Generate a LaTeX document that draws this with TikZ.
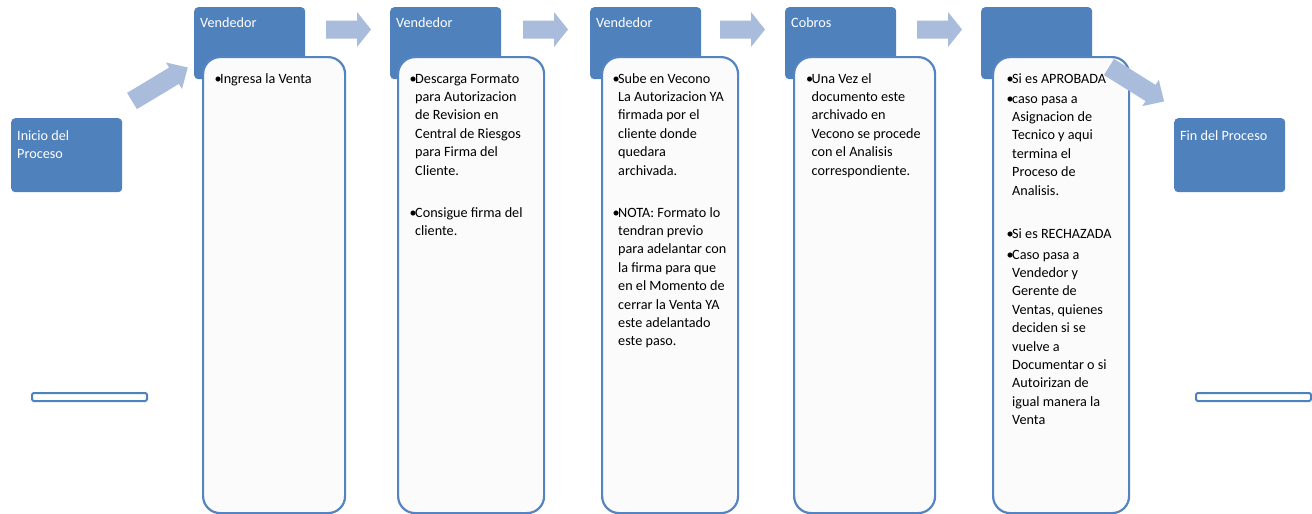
\documentclass[tikz,border=0pt]{standalone}
\usepackage{fontspec}
\setmainfont{Carlito}
\definecolor{hdr}{HTML}{4F81BD}
\definecolor{arr}{HTML}{A9BCDB}
\definecolor{cardb}{HTML}{5584C2}
\definecolor{cardf}{HTML}{FBFBFB}
\newcommand\bl{\makebox[5.5pt][l]{•}}
\newcommand\ind{\hspace*{5.5pt}}
\begin{document}
\begin{tikzpicture}[x=1pt,y=-1pt,
  hdrbox/.style={rectangle, rounded corners=4pt, fill=hdr, draw=none, anchor=north west, inner sep=0pt, minimum width=111pt},
  card/.style={rectangle, rounded corners=17pt, fill=cardf, draw=cardb, line width=2.2pt, anchor=north west, inner sep=0pt, minimum height=456pt},
  body/.style={anchor=north west, inner sep=0pt, align=left, text=black, font=\fontsize{14.2pt}{18.4pt}\selectfont},
  htext/.style={body, text=white},
  bar/.style={draw=hdr, fill=white, line width=2pt, rounded corners=1.5pt},
  harrow/.pic={\fill[arr] (0,-9) -- (31,-9) -- (31,-17.5) -- (45,0) -- (31,17.5) -- (31,9) -- (0,9) -- cycle;},
  darrow/.pic={\fill[arr] (0,-9.5) -- (49,-9.5) -- (49,-15.5) -- (65,0) -- (49,15.5) -- (49,9.5) -- (0,9.5) -- cycle;}
]
\useasboundingbox[fill=white] (0,0) rectangle (1312,514);

% start / end boxes
\node[hdrbox, minimum height=74pt] (ini) at (11,118) {};
\node[htext] (initxt) at (17,127.1) {\strut Inicio del\\Proceso};
\node[hdrbox, minimum height=74pt] (fin) at (1174,118) {};
\node[htext] (fintxt) at (1180,127.1) {\strut Fin del Proceso};

% header boxes
\node[hdrbox, minimum height=72pt] (h1) at (194,7) {};
\node[hdrbox, minimum height=72pt] (h2) at (390,7) {};
\node[hdrbox, minimum height=72pt] (h3) at (590,7) {};
\node[hdrbox, minimum height=72pt] (h4) at (785,7) {};
\node[hdrbox, minimum height=72pt] (h5) at (981,7) {};
\node[htext] (ht1) at (200,14.1) {\strut Vendedor};
\node[htext] (ht2) at (396,14.1) {\strut Vendedor};
\node[htext] (ht3) at (596,14.1) {\strut Vendedor};
\node[htext] (ht4) at (791,14.1) {\strut Cobros};

% cards
\node[card, minimum width=142pt] (c1) at (202,56) {};
\node[card, minimum width=146pt] (c2) at (397,56) {};
\node[card, minimum width=136pt] (c3) at (601,56) {};
\node[card, minimum width=141pt] (c4) at (793,56) {};
\node[card, minimum width=136pt] (c5) at (992,56) {};

\node[body] (b1) at (214.5,70.1) {\strut\bl Ingresa la Venta};
\node[body] (b2) at (409.5,70.1) {\strut\bl Descarga Formato\\
\ind para Autorizacion\\
\ind de Revision en\\
\ind Central de Riesgos\\
\ind para Firma del\\
\ind Cliente.\\[23.6pt]
\bl Consigue firma del\\
\ind cliente.};
\node[body] (b3) at (612.5,70.1) {\strut\bl Sube en Vecono\\
\ind La Autorizacion YA\\
\ind firmada por el\\
\ind cliente donde\\
\ind quedara\\
\ind archivada.\\[23.6pt]
\bl NOTA: Formato lo\\
\ind tendran previo\\
\ind para adelantar con\\
\ind la firma para que\\
\ind en el Momento de\\
\ind cerrar la Venta YA\\
\ind este adelantado\\
\ind este paso.};
\node[body] (b4) at (806,70.1) {\strut\bl Una Vez el\\
\ind documento este\\
\ind archivado en\\
\ind Vecono se procede\\
\ind con el Analisis\\
\ind correspondiente.};
\node[body] (b5) at (1006.5,70.1) {\strut\bl Si es APROBADA\\[1.6pt]
\bl caso pasa a\\
\ind Asignacion de\\
\ind Tecnico y aqui\\
\ind termina el\\
\ind Proceso de\\
\ind Analisis.\\[24.6pt]
\bl Si es RECHAZADA\\[2.6pt]
\bl Caso pasa a\\
\ind Vendedor y\\
\ind Gerente de\\
\ind Ventas, quienes\\
\ind deciden si se\\
\ind vuelve a\\
\ind Documentar o si\\
\ind Autoirizan de\\
\ind igual manera la\\
\ind Venta};

% bars
\draw[bar] (32,393) rectangle (147,401);
\draw[bar] (1196,393) rectangle (1311,401);

% block arrows
\pic (a0) [rotate=31] at (132,101) {darrow};
\pic (a1) at (326,29.5) {harrow};
\pic (a2) at (523,29.5) {harrow};
\pic (a3) at (720,29.5) {harrow};
\pic (a4) at (917,29.5) {harrow};
\pic (a5) [rotate=-32] at (1109,67) {darrow};
\end{tikzpicture}
\end{document}
